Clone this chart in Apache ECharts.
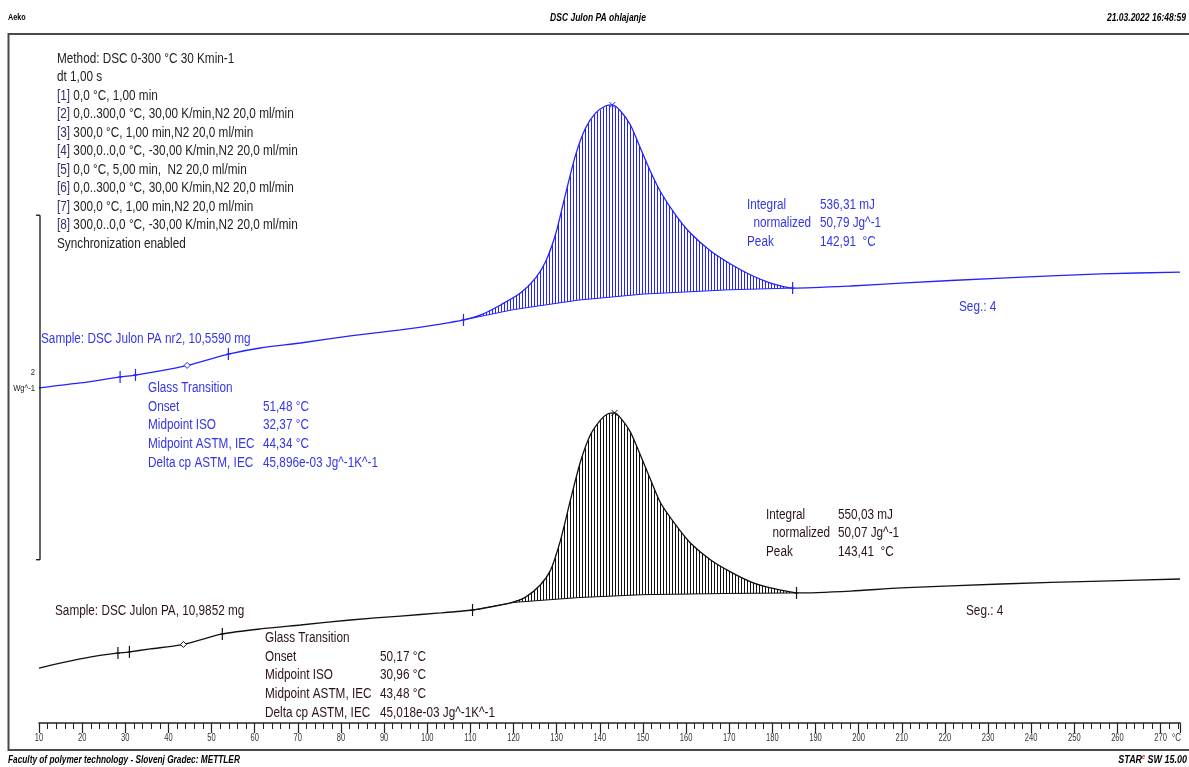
<!DOCTYPE html>
<html>
<head>
<meta charset="utf-8">
<script src="https://cdn.jsdelivr.net/npm/echarts@6/dist/echarts.min.js"></script>
<style>
  html, body { margin: 0; padding: 0; background: #fff; }
  #chart { width: 1189px; height: 767px; }
</style>
</head>
<body>
<div id="chart"></div>
<script>
// ---- Sample DSC Julon PA nr2 (blue), cooling segment 4: temperature (°C) / heat flow (W/g, offset) ----
const nr2Temp = [10, 19.5, 28.8, 32.3, 38.1, 43.9, 49.7, 53.9, 61.3, 70.6, 82.2, 93.8, 103.1, 108.4,
  112.4, 117.0, 121.6, 125.1, 127.4, 129.7, 132.0, 134.4, 136.7, 139.0, 141.3, 142.91,
  144.8, 147.1, 149.4, 151.8, 154.1, 157.6, 161.0, 165.7, 170.3, 175.0, 179.6, 183.1, 184.7,
  198.2, 209.8, 233.0, 256.2, 274.5];
const nr2Flow = [1.945, 1.974, 2.009, 2.020, 2.044, 2.073, 2.113, 2.142, 2.177, 2.206, 2.247, 2.282, 2.316, 2.340,
  2.369, 2.427, 2.496, 2.583, 2.676, 2.833, 3.065, 3.298, 3.454, 3.541, 3.582, 3.588,
  3.553, 3.472, 3.338, 3.199, 3.083, 2.949, 2.845, 2.740, 2.665, 2.601, 2.554, 2.531, 2.525,
  2.537, 2.554, 2.583, 2.607, 2.618];
// integration baseline of the crystallisation peak
const nr2BaseTemp = [108.4, 120, 135, 150, 170, 184.7];
const nr2BaseFlow = [2.340, 2.400, 2.455, 2.490, 2.515, 2.525];
// evaluation limits / ISO midpoint ticks, ASTM midpoint, peak
const nr2Ticks = [[28.8, 2.009], [32.37, 2.021], [53.9, 2.142], [108.4, 2.340], [184.7, 2.525]];
const nr2Mid = [[44.34, 2.076]];
const nr2Peak = [[142.91, 3.588]];

// ---- Sample DSC Julon PA (black) ----
const paTemp = [10, 14.9, 21.8, 28.3, 30.6, 35.8, 42.9, 47.4, 52.5, 61.3, 70.6, 82.2, 93.8, 103.1, 110.5,
  114.6, 119.3, 122.8, 126.2, 128.6, 130.9, 133.2, 135.5, 137.8, 140.2, 141.8, 143.41,
  144.8, 147.1, 149.4, 151.8, 154.1, 157.6, 161.0, 165.7, 170.3, 175.0, 179.6, 184.2, 185.6,
  198.2, 209.8, 233.0, 256.2, 274.5];
const paFlow = [0.319, 0.348, 0.383, 0.406, 0.412, 0.430, 0.453, 0.482, 0.517, 0.546, 0.569, 0.598, 0.621, 0.639, 0.656,
  0.673, 0.697, 0.731, 0.801, 0.888, 1.062, 1.295, 1.515, 1.672, 1.760, 1.794, 1.800,
  1.771, 1.689, 1.556, 1.411, 1.277, 1.150, 1.045, 0.946, 0.877, 0.819, 0.784, 0.761, 0.755,
  0.766, 0.784, 0.807, 0.824, 0.836];
const paBaseTemp = [110.5, 120, 135, 150, 170, 185.6];
const paBaseFlow = [0.656, 0.700, 0.728, 0.745, 0.752, 0.755];
const paTicks = [[28.3, 0.406], [30.96, 0.413], [52.5, 0.517], [110.5, 0.656], [185.6, 0.755]];
const paMid = [[43.48, 0.456]];
const paPeak = [[143.41, 1.800]];

// ---- scale bar: 2 W/g ----
const scaleBar = [[10, 0.948, 2.948]];
const scaleLabel = ['2', 'Wg^-1'];

// ---- temperature axis ----
const tempMin = 10, tempMax = 274.5, tempStep = 10;
const tempLabels = [10, 20, 30, 40, 50, 60, 70, 80, 90, 100, 110, 120, 130, 140, 150, 160, 170, 180, 190,
  200, 210, 220, 230, 240, 250, 260, 270];

// ---- texts ----
const methodLines = [
  'Method: DSC 0-300 °C 30 Kmin-1',
  'dt 1,00 s',
  '[1] 0,0 °C, 1,00 min',
  '[2] 0,0..300,0 °C, 30,00 K/min,N2 20,0 ml/min',
  '[3] 300,0 °C, 1,00 min,N2 20,0 ml/min',
  '[4] 300,0..0,0 °C, -30,00 K/min,N2 20,0 ml/min',
  '[5] 0,0 °C, 5,00 min,  N2 20,0 ml/min',
  '[6] 0,0..300,0 °C, 30,00 K/min,N2 20,0 ml/min',
  '[7] 300,0 °C, 1,00 min,N2 20,0 ml/min',
  '[8] 300,0..0,0 °C, -30,00 K/min,N2 20,0 ml/min',
  'Synchronization enabled'
];
const glassNames = ['Glass Transition', 'Onset', 'Midpoint ISO', 'Midpoint ASTM, IEC', 'Delta cp ASTM, IEC'];
const nr2Glass = ['', '51,48 °C', '32,37 °C', '44,34 °C', '45,896e-03 Jg^-1K^-1'];
const paGlass = ['', '50,17 °C', '30,96 °C', '43,48 °C', '45,018e-03 Jg^-1K^-1'];
const peakNames = ['Integral', '  normalized', 'Peak'];
const nr2PeakVals = ['536,31 mJ', '50,79 Jg^-1', '142,91  °C'];
const paPeakVals = ['550,03 mJ', '50,07 Jg^-1', '143,41  °C'];

const BLUE = '#2323ff';
const BLUE_TXT = '#3434ea';
const BLACK = '#111111';
const DARK_TXT = '#2a1216';
const SANS = '"Liberation Sans", Arial, sans-serif';
const NARROW_X = 0.84;   // horizontal squeeze giving a narrow sans face

function pairs(t, w) { return t.map((v, i) => [v, w[i]]); }

function hatchPattern(color) {
  const c = document.createElement('canvas');
  c.width = 3; c.height = 3;
  const g = c.getContext('2d');
  g.fillStyle = color;
  g.fillRect(0, 0, 1, 3);
  return { image: c, repeat: 'repeat' };
}

// area between curve and baseline filled with vertical hatching
function hatchRenderer(T, W, bT, bW, color) {
  const fill = hatchPattern(color);
  return function (params, api) {
    const lo = bT[0], hi = bT[bT.length - 1];
    const pts = [];
    for (let i = 0; i < T.length; i++) {
      if (T[i] >= lo && T[i] <= hi) pts.push(api.coord([T[i], W[i]]));
    }
    for (let i = bT.length - 1; i >= 0; i--) pts.push(api.coord([bT[i], bW[i]]));
    const base = bT.map((t, i) => api.coord([t, bW[i]]));
    return {
      type: 'group',
      children: [
        { type: 'polygon', shape: { points: pts }, style: { fill: fill, stroke: null } },
        { type: 'polyline', shape: { points: base }, style: { stroke: color, lineWidth: 1, fill: null } }
      ]
    };
  };
}

function tickRenderer(color) {
  return function (params, api) {
    const p = api.coord([api.value(0), api.value(1)]);
    return {
      type: 'group',
      children: [
        { type: 'line', shape: { x1: p[0], y1: p[1] - 6, x2: p[0], y2: p[1] + 6 }, style: { stroke: color, lineWidth: 1.2 } },
        { type: 'line', shape: { x1: p[0] - 2, y1: p[1], x2: p[0] + 2, y2: p[1] }, style: { stroke: color, lineWidth: 1 } }
      ]
    };
  };
}

function diamondRenderer(color) {
  return function (params, api) {
    const p = api.coord([api.value(0), api.value(1)]);
    const r = 3;
    return {
      type: 'polygon',
      shape: { points: [[p[0], p[1] - r], [p[0] + r, p[1]], [p[0], p[1] + r], [p[0] - r, p[1]]] },
      style: { stroke: color, fill: '#fff', lineWidth: 1 }
    };
  };
}

function peakRenderer(color) {
  return function (params, api) {
    const p = api.coord([api.value(0), api.value(1)]);
    return {
      type: 'group',
      children: [
        { type: 'line', shape: { x1: p[0] - 3, y1: p[1] - 3, x2: p[0] + 3, y2: p[1] + 3 }, style: { stroke: color, lineWidth: 1 } },
        { type: 'line', shape: { x1: p[0] - 3, y1: p[1] + 3, x2: p[0] + 3, y2: p[1] - 3 }, style: { stroke: color, lineWidth: 1 } }
      ]
    };
  };
}

function scaleRenderer(params, api) {
  const x = api.coord([api.value(0), api.value(1)])[0] + 1;
  const yb = api.coord([api.value(0), api.value(1)])[1];
  const yt = api.coord([api.value(0), api.value(2)])[1];
  const ym = (yb + yt) / 2;
  const s = { stroke: '#111', lineWidth: 1.3 };
  return {
    type: 'group',
    children: [
      { type: 'line', shape: { x1: x, y1: yt, x2: x, y2: yb }, style: s },
      { type: 'line', shape: { x1: x - 4, y1: yt, x2: x, y2: yt }, style: s },
      { type: 'line', shape: { x1: x - 4, y1: yb, x2: x, y2: yb }, style: s },
      { type: 'text', x: x - 5, y: ym - 15, scaleX: 0.85, style: { text: scaleLabel[0], fill: '#222', font: '9px ' + SANS, align: 'right', verticalAlign: 'middle' } },
      { type: 'text', x: x - 5, y: ym + 1, scaleX: 0.85, style: { text: scaleLabel[1], fill: '#222', font: '9px ' + SANS, align: 'right', verticalAlign: 'middle' } }
    ]
  };
}

// temperature tick labels, placed through the x scale
function tempLabelRenderer(params, api) {
  const p = api.coord([api.value(0), 0]);
  return {
    type: 'text', x: p[0], y: p[1] + 15, scaleX: 0.72,
    style: { text: String(api.value(0)), fill: '#333', font: '10.5px ' + SANS, align: 'center', verticalAlign: 'middle' }
  };
}

// ---- text blocks as graphic elements ----
const graphics = [];
function txt(x, y, text, color, size, sx) {
  graphics.push({
    type: 'text', x: x, y: y, silent: true, scaleX: sx || NARROW_X,
    style: { text: text, fill: color, font: (size || 14) + 'px ' + SANS, textAlign: 'left', textVerticalAlign: 'middle' }
  });
}

// frame
graphics.push({ type: 'polyline', silent: true, shape: { points: [[1189, 34], [8.5, 34], [8.5, 750], [1189, 750]] },
  style: { stroke: '#4a4a4a', lineWidth: 2, fill: null } });

// header / footer
const HDR = 'italic bold 11.5px ' + SANS;
graphics.push({ type: 'text', x: 8, y: 18, silent: true, scaleX: 0.8, style: { text: 'Aeko', font: 'bold 9px ' + SANS, fill: '#000', textVerticalAlign: 'middle' } });
graphics.push({ type: 'text', x: 598, y: 18, silent: true, scaleX: 0.74, style: { text: 'DSC Julon PA ohlajanje', font: HDR, fill: '#000', textAlign: 'center', textVerticalAlign: 'middle' } });
graphics.push({ type: 'text', x: 1186, y: 18, silent: true, scaleX: 0.74, style: { text: '21.03.2022 16:48:59', font: HDR, fill: '#000', textAlign: 'right', textVerticalAlign: 'middle' } });
graphics.push({ type: 'text', x: 8, y: 760, silent: true, scaleX: 0.72, style: { text: 'Faculty of polymer technology - Slovenj Gradec: METTLER', font: HDR, fill: '#000', textVerticalAlign: 'middle' } });
graphics.push({ type: 'text', x: 1187, y: 760, silent: true, scaleX: 0.78, style: {
  text: '{s|STAR}{e|e}{s| SW 15.00}', textAlign: 'right', textVerticalAlign: 'middle',
  rich: { s: { font: HDR, fill: '#000' }, e: { font: 'italic bold 7px ' + SANS, fill: '#e01010', verticalAlign: 'top' } } } });

// axis unit
txt(1172, 738, '°C', '#333', 10.5, 0.75);

// method block
methodLines.forEach((line, i) => {
  const m = line.match(/^(\[\d\])(.*)$/);
  if (m) {
    graphics.push({ type: 'text', x: 57, y: 59 + i * 18.5, silent: true, scaleX: NARROW_X, style: {
      text: '{b|' + m[1] + '}{t|' + m[2] + '}', textVerticalAlign: 'middle',
      rich: { b: { font: '14px ' + SANS, fill: '#3d2a6a' }, t: { font: '14px ' + SANS, fill: '#222' } } } });
  } else {
    txt(57, 59 + i * 18.5, line, '#222', 14);
  }
});

// blue sample annotations
txt(41, 339, 'Sample: DSC Julon PA nr2, 10,5590 mg', BLUE_TXT, 14);
glassNames.forEach((n, i) => {
  txt(148, 388 + i * 18.7, n, BLUE_TXT, 14);
  if (nr2Glass[i]) txt(263, 388 + i * 18.7, nr2Glass[i], BLUE_TXT, 14);
});
peakNames.forEach((n, i) => {
  txt(747, 205 + i * 18.5, n, BLUE_TXT, 14);
  txt(820, 205 + i * 18.5, nr2PeakVals[i], BLUE_TXT, 14);
});
txt(959, 307, 'Seg.: 4', BLUE_TXT, 14);

// black sample annotations
txt(55, 611, 'Sample: DSC Julon PA, 10,9852 mg', DARK_TXT, 14);
glassNames.forEach((n, i) => {
  txt(265, 638 + i * 18.7, n, DARK_TXT, 14);
  if (paGlass[i]) txt(380, 638 + i * 18.7, paGlass[i], DARK_TXT, 14);
});
peakNames.forEach((n, i) => {
  txt(766, 515 + i * 18.5, n, DARK_TXT, 14);
  txt(838, 515 + i * 18.5, paPeakVals[i], DARK_TXT, 14);
});
txt(966, 611, 'Seg.: 4', DARK_TXT, 14);

const chart = echarts.init(document.getElementById('chart'), null, { renderer: 'canvas' });
chart.setOption({
  animation: false,
  backgroundColor: '#ffffff',
  grid: { left: 39, right: 9, top: 34, bottom: 44 },
  xAxis: {
    type: 'value', min: tempMin, max: tempMax, interval: tempStep,
    axisLine: { show: true, onZero: false, lineStyle: { color: '#222', width: 1.5 } },
    axisTick: { show: true, length: 10, lineStyle: { color: '#222', width: 1.2 } },
    minorTick: { show: true, splitNumber: 5, length: 6, lineStyle: { color: '#222', width: 1 } },
    axisLabel: { show: false },
    splitLine: { show: false }
  },
  yAxis: { type: 'value', min: 0, max: 4, show: false },
  series: [
    { type: 'custom', renderItem: tempLabelRenderer, data: tempLabels.map(v => [v]), silent: true, clip: false, z: 3 },
    { type: 'custom', renderItem: scaleRenderer, data: scaleBar, silent: true, clip: false, z: 3 },
    { type: 'custom', renderItem: hatchRenderer(nr2Temp, nr2Flow, nr2BaseTemp, nr2BaseFlow, BLUE), data: [[nr2BaseTemp[0], nr2BaseFlow[0]]], silent: true, z: 1 },
    { type: 'custom', renderItem: hatchRenderer(paTemp, paFlow, paBaseTemp, paBaseFlow, BLACK), data: [[paBaseTemp[0], paBaseFlow[0]]], silent: true, z: 1 },
    { type: 'line', data: pairs(nr2Temp, nr2Flow), showSymbol: false, smooth: 0.25, lineStyle: { color: BLUE, width: 1.3 }, silent: true, z: 2 },
    { type: 'line', data: pairs(paTemp, paFlow), showSymbol: false, smooth: 0.25, lineStyle: { color: BLACK, width: 1.3 }, silent: true, z: 2 },
    { type: 'custom', renderItem: tickRenderer(BLUE), data: nr2Ticks, silent: true, z: 4 },
    { type: 'custom', renderItem: tickRenderer(BLACK), data: paTicks, silent: true, z: 4 },
    { type: 'custom', renderItem: diamondRenderer(BLUE), data: nr2Mid, silent: true, z: 4 },
    { type: 'custom', renderItem: diamondRenderer(BLACK), data: paMid, silent: true, z: 4 },
    { type: 'custom', renderItem: peakRenderer(BLUE), data: nr2Peak, silent: true, z: 4 },
    { type: 'custom', renderItem: peakRenderer(BLACK), data: paPeak, silent: true, z: 4 }
  ],
  graphic: graphics
});
</script>
</body>
</html>
